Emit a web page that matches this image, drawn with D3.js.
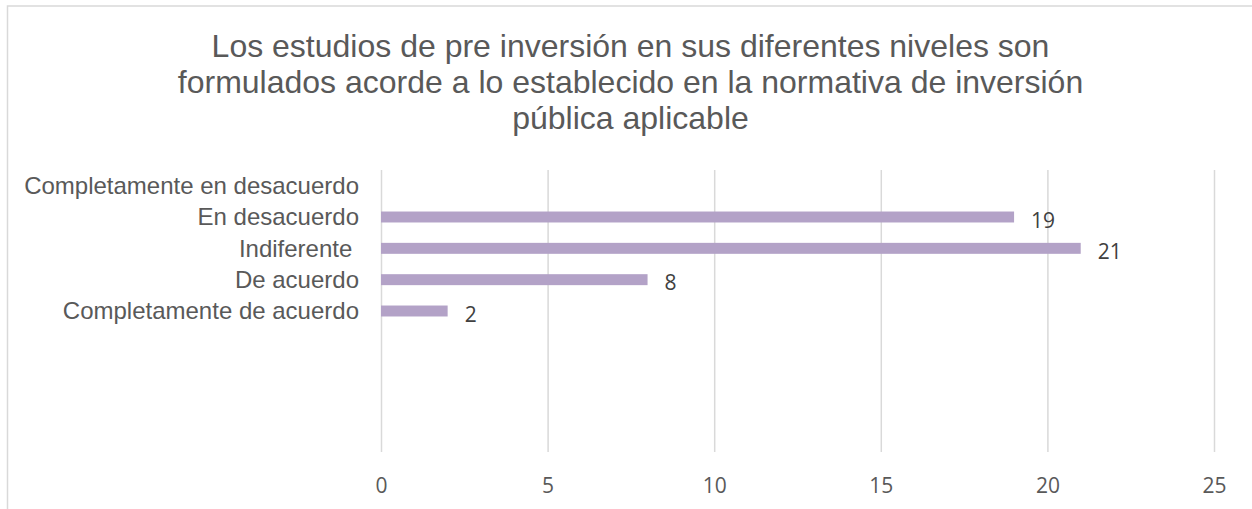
<!DOCTYPE html>
<html lang="es">
<head>
    <meta charset="UTF-8">
    <title>Estudios de pre inversión</title>
    <script src="https://cdn.jsdelivr.net/npm/d3@7/dist/d3.min.js"></script>
    <style>
        body { margin: 0; background: #fff; }
        text { white-space: pre; }
    </style>
</head>
<body>
    <script>
        // datos (de arriba hacia abajo, como en el gráfico)
        var categories = ["Completamente en desacuerdo", "En desacuerdo", "Indiferente ", "De acuerdo",
                          "Completamente de acuerdo", "", "", "", ""];
        var values = [null, 19, 21, 8, 2, null, null, null, null];
        var ticks = [0, 5, 10, 15, 20, 25];
        var titleLines = ["Los estudios de pre inversión en sus diferentes niveles son",
                          "formulados acorde a lo establecido en la normativa de inversión",
                          "pública aplicable"];

        var width = 1252;
        var height = 509;
        var margin = {top: 170, right: 38, bottom: 57, left: 381};   // área de trazado

        var svg = d3.select("body").append("svg")
                .attr("width", width).attr("height", height);

        /* marco del gráfico (solo se ven el borde superior e izquierdo) */
        svg.append("rect")
                .attr("x", 7.5).attr("y", 6)
                .attr("width", width + 20).attr("height", height + 20)
                .attr("fill", "#fff")
                .attr("stroke", "#d9d9d9").attr("stroke-width", 1.5);

        /* título */
        svg.append("text")
                .attr("text-anchor", "middle")
                .attr("font-family", "'Liberation Sans', Arial, sans-serif")
                .attr("font-size", "32px")
                .attr("fill", "#595959")
                .selectAll("tspan")
                .data(titleLines)
                .enter()
                .append("tspan")
                .attr("x", 630.5)
                .attr("y", function(d, i){ return 57 + i * 36; })
                .text(function(d){ return d; });

        var x = d3.scaleLinear()
                .domain([0, 25])
                .range([margin.left, width - margin.right]);

        var y = d3.scaleBand()
                .domain(d3.range(categories.length))
                .range([margin.top, height - margin.bottom])
                .paddingInner(0.65)
                .paddingOuter(0.325);

        /* eje x con líneas de cuadrícula */
        var xAxis = d3.axisBottom(x)
                .tickValues(ticks)
                .tickSizeInner(-(height - margin.bottom - margin.top))
                .tickSizeOuter(0)
                .tickPadding(26);

        var gx = svg.append("g")
                .attr("transform", "translate(0," + (height - margin.bottom) + ")")
                .call(xAxis);
        gx.select(".domain").remove();
        gx.selectAll(".tick line")
                .attr("stroke", "#d9d9d9").attr("stroke-width", 1.5);
        gx.selectAll(".tick text")
                .attr("font-family", "'Open Sans', sans-serif")
                .attr("font-size", "21px")
                .attr("fill", "#595959");

        /* etiquetas de categoría */
        svg.append("g").selectAll("text")
                .data(categories)
                .enter()
                .append("text")
                .attr("x", margin.left - 22)
                .attr("y", function(d, i){ return y(i) + y.bandwidth() / 2; })
                .attr("dy", "0.35em")
                .attr("text-anchor", "end")
                .attr("font-family", "'Liberation Sans', Arial, sans-serif")
                .attr("font-size", "24px")
                .attr("fill", "#595959")
                .text(function(d){ return d; });

        var shown = values.map(function(v, i){ return {i: i, v: v}; })
                .filter(function(d){ return d.v !== null; });

        /* barras */
        svg.append("g").selectAll("rect")
                .data(shown)
                .enter()
                .append("rect")
                .attr("x", x(0))
                .attr("y", function(d){ return y(d.i); })
                .attr("width", function(d){ return x(d.v) - x(0); })
                .attr("height", y.bandwidth())
                .attr("fill", "#b3a2c7");

        /* etiquetas de datos */
        svg.append("g").selectAll("text")
                .data(shown)
                .enter()
                .append("text")
                .attr("x", function(d){ return x(d.v) + 17; })
                .attr("y", function(d){ return y(d.i) + y.bandwidth() / 2 + 3; })
                .attr("dy", "0.36em")
                .attr("font-family", "'Open Sans', sans-serif")
                .attr("font-size", "21px")
                .attr("fill", "#404040")
                .text(function(d){ return d.v; });
    </script>
</body>
</html>
